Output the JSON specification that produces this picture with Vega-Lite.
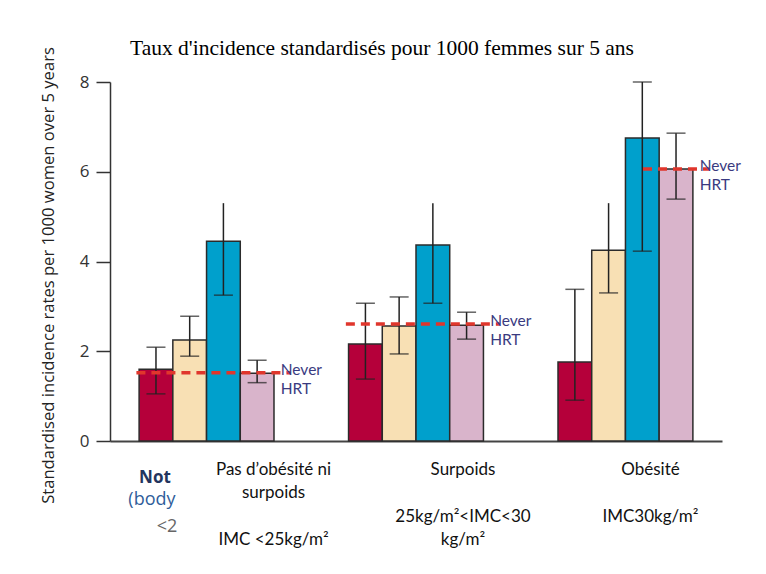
{
  "$schema": "https://vega.github.io/schema/vega-lite/v6.json",
  "width": 612,
  "height": 359,
  "autosize": {"type": "none"},
  "padding": {"left": 110, "top": 82, "right": 44, "bottom": 133},
  "background": "white",
  "title": {
    "text": "Taux d'incidence standardisés pour 1000 femmes sur 5 ans",
    "font": "Liberation Serif",
    "fontSize": 21.5,
    "fontWeight": "normal",
    "color": "#000000",
    "anchor": "middle",
    "dx": -34,
    "offset": -30,
    "baseline": "alphabetic"
  },
  "config": {"view": {"stroke": null}, "axis": {"grid": false}},
  "datasets": {
    "bars": [
      {"group": "Pas d’obésité ni surpoids", "cat": "Continuous combined", "value": 1.6, "lo": 1.05, "hi": 2.09, "cap": "yes"},
      {"group": "Pas d’obésité ni surpoids", "cat": "Cyclic combined", "value": 2.25, "lo": 1.89, "hi": 2.78, "cap": "yes"},
      {"group": "Pas d’obésité ni surpoids", "cat": "Tibolone", "value": 4.45, "lo": 3.25, "hi": 5.3, "cap": "no"},
      {"group": "Pas d’obésité ni surpoids", "cat": "Oestrogen-only", "value": 1.51, "lo": 1.3, "hi": 1.8, "cap": "yes"},
      {"group": "Surpoids", "cat": "Continuous combined", "value": 2.16, "lo": 1.38, "hi": 3.07, "cap": "yes"},
      {"group": "Surpoids", "cat": "Cyclic combined", "value": 2.56, "lo": 1.94, "hi": 3.21, "cap": "yes"},
      {"group": "Surpoids", "cat": "Tibolone", "value": 4.37, "lo": 3.07, "hi": 5.3, "cap": "no"},
      {"group": "Surpoids", "cat": "Oestrogen-only", "value": 2.58, "lo": 2.27, "hi": 2.87, "cap": "yes"},
      {"group": "Obésité", "cat": "Continuous combined", "value": 1.76, "lo": 0.91, "hi": 3.38, "cap": "yes"},
      {"group": "Obésité", "cat": "Cyclic combined", "value": 4.25, "lo": 3.3, "hi": 5.3, "cap": "no"},
      {"group": "Obésité", "cat": "Tibolone", "value": 6.75, "lo": 4.23, "hi": 8.0, "cap": "yes"},
      {"group": "Obésité", "cat": "Oestrogen-only", "value": 6.06, "lo": 5.39, "hi": 6.86, "cap": "yes"}
    ],
    "never": [
      {"group": "Pas d’obésité ni surpoids", "value": 1.52, "label": "Never\nHRT"},
      {"group": "Surpoids", "value": 2.61, "label": "Never\nHRT"},
      {"group": "Obésité", "value": 6.06, "label": "Never\nHRT"}
    ]
  },
  "encoding": {
    "x": {
      "field": "group",
      "type": "nominal",
      "sort": ["Pas d’obésité ni surpoids", "Surpoids", "Obésité"],
      "title": null,
      "scale": {"paddingInner": 0.356, "paddingOuter": 0.139},
      "axis": {
        "ticks": false,
        "domainColor": "#444444",
        "domainWidth": 1.8,
        "labelFont": "Lato",
        "labelFontSize": 17,
        "labelColor": "#111111",
        "labelPadding": 20,
        "labelLineHeight": 23.5,
        "labelAngle": 0,
        "labelOffset": {"condition": [{"test": "datum.value == 'Surpoids'", "value": 47}, {"test": "datum.value == 'Obésité'", "value": 25}], "value": 67},
        "labelExpr": "datum.value == 'Surpoids' ? ['Surpoids', '\u2800', '25kg/m²<IMC<30', 'kg/m²'] : datum.value == 'Obésité' ? ['Obésité', '\u2800', 'IMC30kg/m²'] : ['Pas d’obésité ni', 'surpoids', '\u2800', 'IMC <25kg/m²']"
      }
    }
  },
  "layer": [
    {
      "data": {"name": "bars"},
      "mark": {"type": "bar", "stroke": "#2b2b2b", "strokeWidth": 1.5},
      "encoding": {
        "xOffset": {"field": "cat", "type": "nominal", "sort": ["Continuous combined", "Cyclic combined", "Tibolone", "Oestrogen-only"], "scale": {"paddingInner": 0, "paddingOuter": 0}},
        "y": {
          "field": "value",
          "type": "quantitative",
          "scale": {"domain": [0, 8], "nice": false},
          "axis": {
            "values": [0, 2, 4, 6, 8],
            "title": "Standardised incidence rates per 1000 women over 5 years",
            "titleFont": "Open Sans",
            "titleFontSize": 16.6,
            "titleFontWeight": "normal",
            "titleColor": "#222222",
            "titleX": -62,
            "titleY": 193,
            "titleBaseline": "middle",
            "titleAlign": "center",
            "titleAngle": 270,
            "labelFont": "Open Sans",
            "labelFontSize": 17,
            "labelColor": "#333333",
            "labelPadding": 7,
            "tickSize": 14,
            "tickColor": "#333333",
            "tickWidth": 1.5,
            "domainColor": "#333333",
            "domainWidth": 1.5
          }
        },
        "color": {
          "field": "cat",
          "type": "nominal",
          "scale": {"domain": ["Continuous combined", "Cyclic combined", "Tibolone", "Oestrogen-only"], "range": ["#b5003a", "#f8e0b4", "#00a0cc", "#d9b4cb"]},
          "legend": null
        }
      }
    },
    {
      "data": {"name": "bars"},
      "mark": {"type": "rule", "color": "#222222", "strokeWidth": 1.5},
      "encoding": {
        "xOffset": {"field": "cat", "type": "nominal", "sort": ["Continuous combined", "Cyclic combined", "Tibolone", "Oestrogen-only"]},
        "y": {"field": "lo", "type": "quantitative"},
        "y2": {"field": "hi"}
      }
    },
    {
      "data": {"name": "bars"},
      "mark": {"type": "tick", "orient": "horizontal", "size": 19, "thickness": 1.5, "color": "#222222"},
      "encoding": {
        "xOffset": {"field": "cat", "type": "nominal", "sort": ["Continuous combined", "Cyclic combined", "Tibolone", "Oestrogen-only"]},
        "y": {"field": "lo", "type": "quantitative"}
      }
    },
    {
      "data": {"name": "bars"},
      "transform": [{"filter": "datum.cap == 'yes'"}],
      "mark": {"type": "tick", "orient": "horizontal", "size": 19, "thickness": 1.5, "color": "#222222"},
      "encoding": {
        "xOffset": {"field": "cat", "type": "nominal", "sort": ["Continuous combined", "Cyclic combined", "Tibolone", "Oestrogen-only"]},
        "y": {"field": "hi", "type": "quantitative"}
      }
    },
    {
      "data": {"name": "never"},
      "transform": [{"filter": "datum.group != 'Obésité'"}],
      "mark": {"type": "rule", "color": "#e0362c", "strokeWidth": 3.5, "strokeDash": [9, 6]},
      "encoding": {
        "x": {"field": "group", "type": "nominal", "sort": ["Pas d’obésité ni surpoids", "Surpoids", "Obésité"], "title": null, "bandPosition": -0.02},
        "x2": {"field": "group", "bandPosition": 1.12},
        "y": {"field": "value", "type": "quantitative"}
      }
    },
    {
      "data": {"name": "never"},
      "transform": [{"filter": "datum.group == 'Obésité'"}],
      "mark": {"type": "rule", "color": "#e0362c", "strokeWidth": 3.5, "strokeDash": [9, 6]},
      "encoding": {
        "x": {"field": "group", "type": "nominal", "sort": ["Pas d’obésité ni surpoids", "Surpoids", "Obésité"], "title": null, "bandPosition": 0.63},
        "x2": {"field": "group", "bandPosition": 1.12},
        "y": {"field": "value", "type": "quantitative"}
      }
    },
    {
      "data": {"name": "never"},
      "mark": {"type": "text", "align": "left", "baseline": "middle", "dy": -3, "font": "Lato", "fontSize": 15.5, "lineHeight": 19, "lineBreak": "\n", "color": "#3a3a80"},
      "encoding": {
        "x": {"field": "group", "type": "nominal", "sort": ["Pas d’obésité ni surpoids", "Surpoids", "Obésité"], "title": null, "bandPosition": 1.05},
        "y": {"field": "value", "type": "quantitative"},
        "text": {"field": "label"}
      }
    },
    {
      "data": {"name": "never"},
      "transform": [{"filter": "datum.group == 'Pas d’obésité ni surpoids'"}],
      "mark": {"type": "text", "align": "left", "baseline": "middle", "font": "Open Sans", "fontSize": 17, "fontWeight": "bold", "color": "#23355e"},
      "encoding": {
        "x": {"field": "group", "type": "nominal", "sort": ["Pas d’obésité ni surpoids", "Surpoids", "Obésité"], "title": null, "bandPosition": 0},
        "y": {"datum": -0.82},
        "text": {"value": "Not"}
      }
    },
    {
      "data": {"name": "never"},
      "transform": [{"filter": "datum.group == 'Pas d’obésité ni surpoids'"}],
      "mark": {"type": "text", "align": "left", "baseline": "middle", "font": "Open Sans", "fontSize": 18, "color": "#2f5d9a"},
      "encoding": {
        "x": {"field": "group", "type": "nominal", "sort": ["Pas d’obésité ni surpoids", "Surpoids", "Obésité"], "title": null, "bandPosition": -0.08},
        "y": {"datum": -1.31},
        "text": {"value": "(body"}
      }
    },
    {
      "data": {"name": "never"},
      "transform": [{"filter": "datum.group == 'Pas d’obésité ni surpoids'"}],
      "mark": {"type": "text", "align": "left", "baseline": "middle", "font": "Open Sans", "fontSize": 18, "color": "#666666"},
      "encoding": {
        "x": {"field": "group", "type": "nominal", "sort": ["Pas d’obésité ni surpoids", "Surpoids", "Obésité"], "title": null, "bandPosition": 0.13},
        "y": {"datum": -1.92},
        "text": {"value": "<2"}
      }
    }
  ]
}
